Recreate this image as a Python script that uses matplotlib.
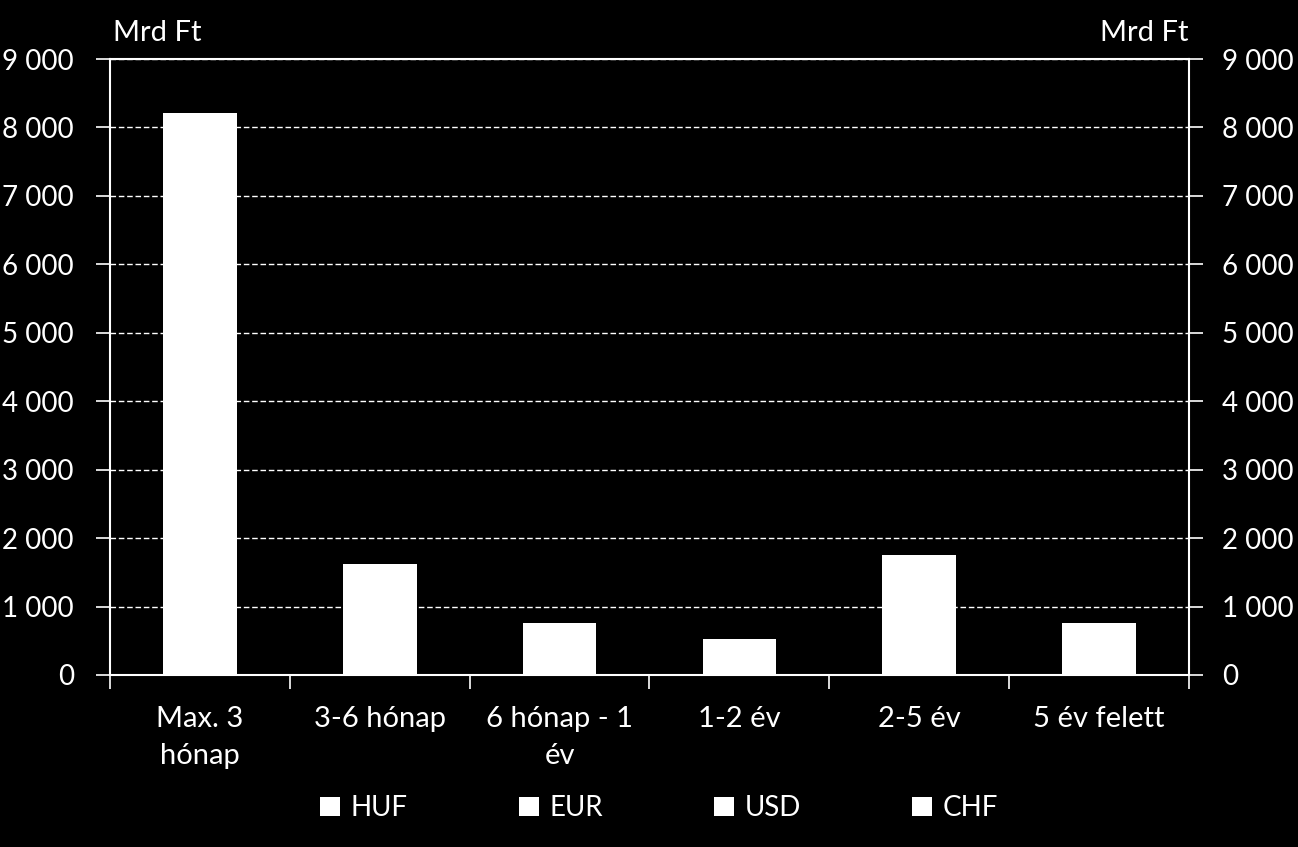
import matplotlib
matplotlib.use("Agg")
import matplotlib.pyplot as plt
import numpy as np
from matplotlib.patches import Patch
from matplotlib.ticker import FuncFormatter

categories = ["Max. 3\nhónap", "3-6 hónap", "6 hónap - 1\név", "1-2 év", "2-5 év", "5 év felett"]
series_names = ["HUF", "EUR", "USD", "CHF"]
# All series are drawn in white in the reference; only the totals are readable.
huf = [8210, 1620, 760, 530, 1750, 760]
eur = [0, 0, 0, 0, 0, 0]
usd = [0, 0, 0, 0, 0, 0]
chf = [0, 0, 0, 0, 0, 0]
yticks = [0, 1000, 2000, 3000, 4000, 5000, 6000, 7000, 8000, 9000]

plt.rcParams['font.family'] = ['Lato', 'DejaVu Sans']
FS = 20

fig = plt.figure(figsize=(12.98, 8.47), dpi=100, facecolor='black')
ax = fig.add_axes([0.0847, 0.2031, 0.9160 - 0.0847, 0.9303 - 0.2031])
ax.set_facecolor('black')

x = np.arange(len(categories))
bottom = np.zeros(len(categories))
for name, vals in zip(series_names, [huf, eur, usd, chf]):
    ax.bar(x, vals, width=0.41, bottom=bottom, color='white', edgecolor='none', zorder=3)
    bottom += np.array(vals)

ax.set_xlim(-0.5, len(categories) - 0.5)
ax.set_ylim(0, 9000)
ax.set_yticks(yticks)
fmt = FuncFormatter(lambda v, p: f"{int(v):,}".replace(",", " "))
ax.yaxis.set_major_formatter(fmt)
ax.grid(axis='y', color='white', linestyle=(0, (4, 2)), linewidth=1.0, zorder=1)

ax.set_xticks(x)
ax.set_xticklabels(categories, color='white', fontsize=21, linespacing=1.55)
ax.tick_params(axis='x', length=0, pad=22)
# category boundary ticks
ax.set_xticks(np.arange(-0.5, len(categories)), minor=True)
ax.tick_params(axis='x', which='minor', length=10, color='white', width=1.2, direction='out')

ax.tick_params(axis='y', colors='white', labelsize=FS, length=10, width=1.2, direction='out', pad=16)

for s in ['left', 'bottom', 'top']:
    ax.spines[s].set_color('white')
    ax.spines[s].set_linewidth(1.5)
ax.spines['right'].set_visible(False)

ax2 = ax.twinx()
ax2.set_ylim(0, 9000)
ax2.set_yticks(yticks)
ax2.yaxis.set_major_formatter(fmt)
ax2.tick_params(axis='y', colors='white', labelsize=FS, length=10, width=1.2, direction='out', pad=14)
for s in ['left', 'bottom', 'top']:
    ax2.spines[s].set_visible(False)
ax2.spines['right'].set_color('white')
ax2.spines['right'].set_linewidth(1.5)

fig.text(113 / 1298, 1 - 33 / 847, "Mrd Ft", color='white', fontsize=21, ha='left', va='center')
fig.text(1188 / 1298, 1 - 33 / 847, "Mrd Ft", color='white', fontsize=21, ha='right', va='center')

handles = [Patch(facecolor='white', edgecolor='none') for _ in series_names]
leg = fig.legend(handles, series_names, loc='center', bbox_to_anchor=(0.508, 1 - 808 / 847),
                 ncol=4, frameon=False, fontsize=FS, labelcolor='white',
                 handlelength=0.7, handleheight=0.7, handletextpad=0.4, columnspacing=4.0)

fig.savefig("out.png", dpi=100, facecolor='black')
